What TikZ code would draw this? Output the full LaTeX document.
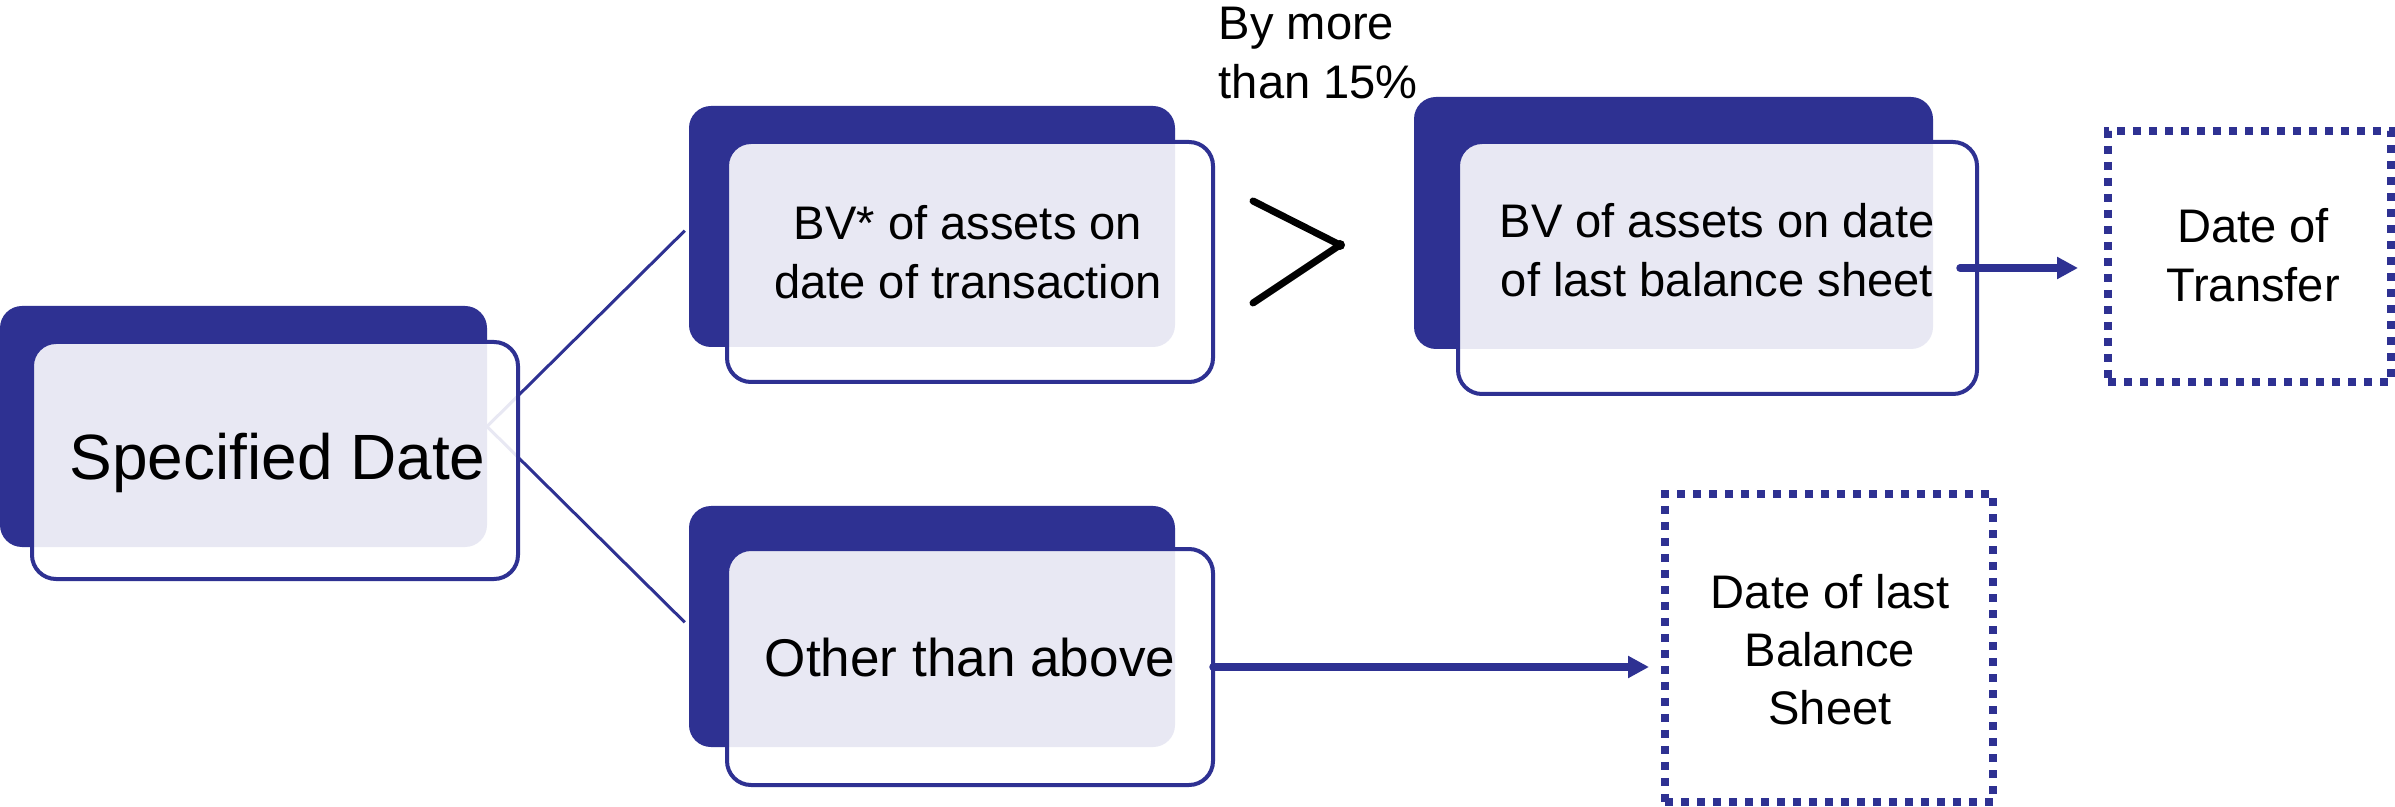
\documentclass[tikz,border=0pt]{standalone}
\usepackage{fontspec}
\setmainfont{Liberation Sans}
\usetikzlibrary{arrows.meta}
\newdimen\pxu \pxu=0.01cm
\definecolor{navy}{HTML}{2E3192}
\pgfdeclarelayer{bg}
\pgfsetlayers{bg,main}

\begin{document}
\begin{tikzpicture}[x=0.01cm, y=-0.01cm,
  backcard/.style={fill=navy, rounded corners=22\pxu, inner sep=0, outer sep=0, anchor=north west},
  frontcard/.style={draw=navy, line width=4\pxu, fill=white, fill opacity=0.89, rounded corners=24\pxu, inner sep=0, outer sep=0, anchor=north west},
  dotbox/.style={draw=navy, line width=8\pxu, dash pattern=on 8\pxu off 8\pxu, inner sep=0, outer sep=0, anchor=north west},
  txt/.style={anchor=base, inner sep=0, text=black, font=\fontsize{13.4}{16.5}\selectfont},
  link/.style={draw=navy, line width=3\pxu},
  flow/.style={draw=navy, line width=7.5\pxu, line cap=round, -{Triangle[length=0.21cm, width=0.21cm]}},
]
\useasboundingbox (0,0) rectangle (2395,807);

% specified date card
\node[backcard, minimum width=487\pxu, minimum height=241\pxu] (Ad) at (0,306) {};
\node[frontcard, minimum width=486\pxu, minimum height=237\pxu] (Af) at (32,342) {};
\node[txt, font=\fontsize{18.2}{22}\selectfont] (At) at (277.5,479) {Specified Date};

% book value on transaction date
\node[backcard, minimum width=486\pxu, minimum height=241\pxu] (Bd) at (689,106) {};
\node[frontcard, minimum width=486\pxu, minimum height=240\pxu] (Bf) at (727,142) {};
\node[txt] (Bt) at (968,240) {\begin{tabular}[t]{@{}c@{}}BV* of assets on\\date of transaction\end{tabular}};

% other case
\node[backcard, minimum width=486\pxu, minimum height=241\pxu] (Cd) at (689,506) {};
\node[frontcard, minimum width=486\pxu, minimum height=236\pxu] (Cf) at (727,549) {};
\node[txt, font=\fontsize{15.1}{18}\selectfont] (Ct) at (970,676) {Other than above};

% book value on last balance sheet
\node[backcard, minimum width=519\pxu, minimum height=252\pxu] (Dd) at (1414,97) {};
\node[frontcard, minimum width=519\pxu, minimum height=252\pxu] (Df) at (1458,142) {};
\node[txt] (Dt) at (1717,238) {\begin{tabular}[t]{@{}c@{}}BV of assets on date\\of last balance sheet\end{tabular}};

% outcomes
\node[dotbox, minimum width=283\pxu, minimum height=251\pxu] (E) at (2108,131) {};
\node[txt] (Et) at (2253,243) {\begin{tabular}[t]{@{}c@{}}Date of\\Transfer\end{tabular}};
\node[dotbox, minimum width=328\pxu, minimum height=308\pxu] (F) at (1665,494) {};
\node[txt] (Ft) at (1830,608) {\begin{tabular}[t]{@{}c@{}}Date of last\\Balance\\Sheet\end{tabular}};

% condition label and comparison sign
\node[txt, anchor=base west] (G) at (1218,40) {\begin{tabular}[t]{@{}l@{}}By more\\than 15\%\end{tabular}};
\draw[black, line width=7\pxu, line cap=round, line join=round] (1253,201) -- (1340,245) -- (1253,303);
\fill[black] (1340,245) circle[radius=5\pxu];

% white page and the thin branch lines, kept behind the cards
\begin{pgfonlayer}{bg}
\fill[white] (0,0) rectangle (2395,807);
\draw[link, shorten >=6\pxu] (Ad.east) -- (Bd.west);
\draw[link, shorten >=6\pxu] (Ad.east) -- (Cd.west);
\end{pgfonlayer}
\draw[flow, shorten >=30\pxu] ([xshift=-17\pxu]Df.east) -- (Df.east -| E.west);
\draw[flow, shorten >=16\pxu] (Cf.east) -- (Cf.east -| F.west);
\end{tikzpicture}
\end{document}
